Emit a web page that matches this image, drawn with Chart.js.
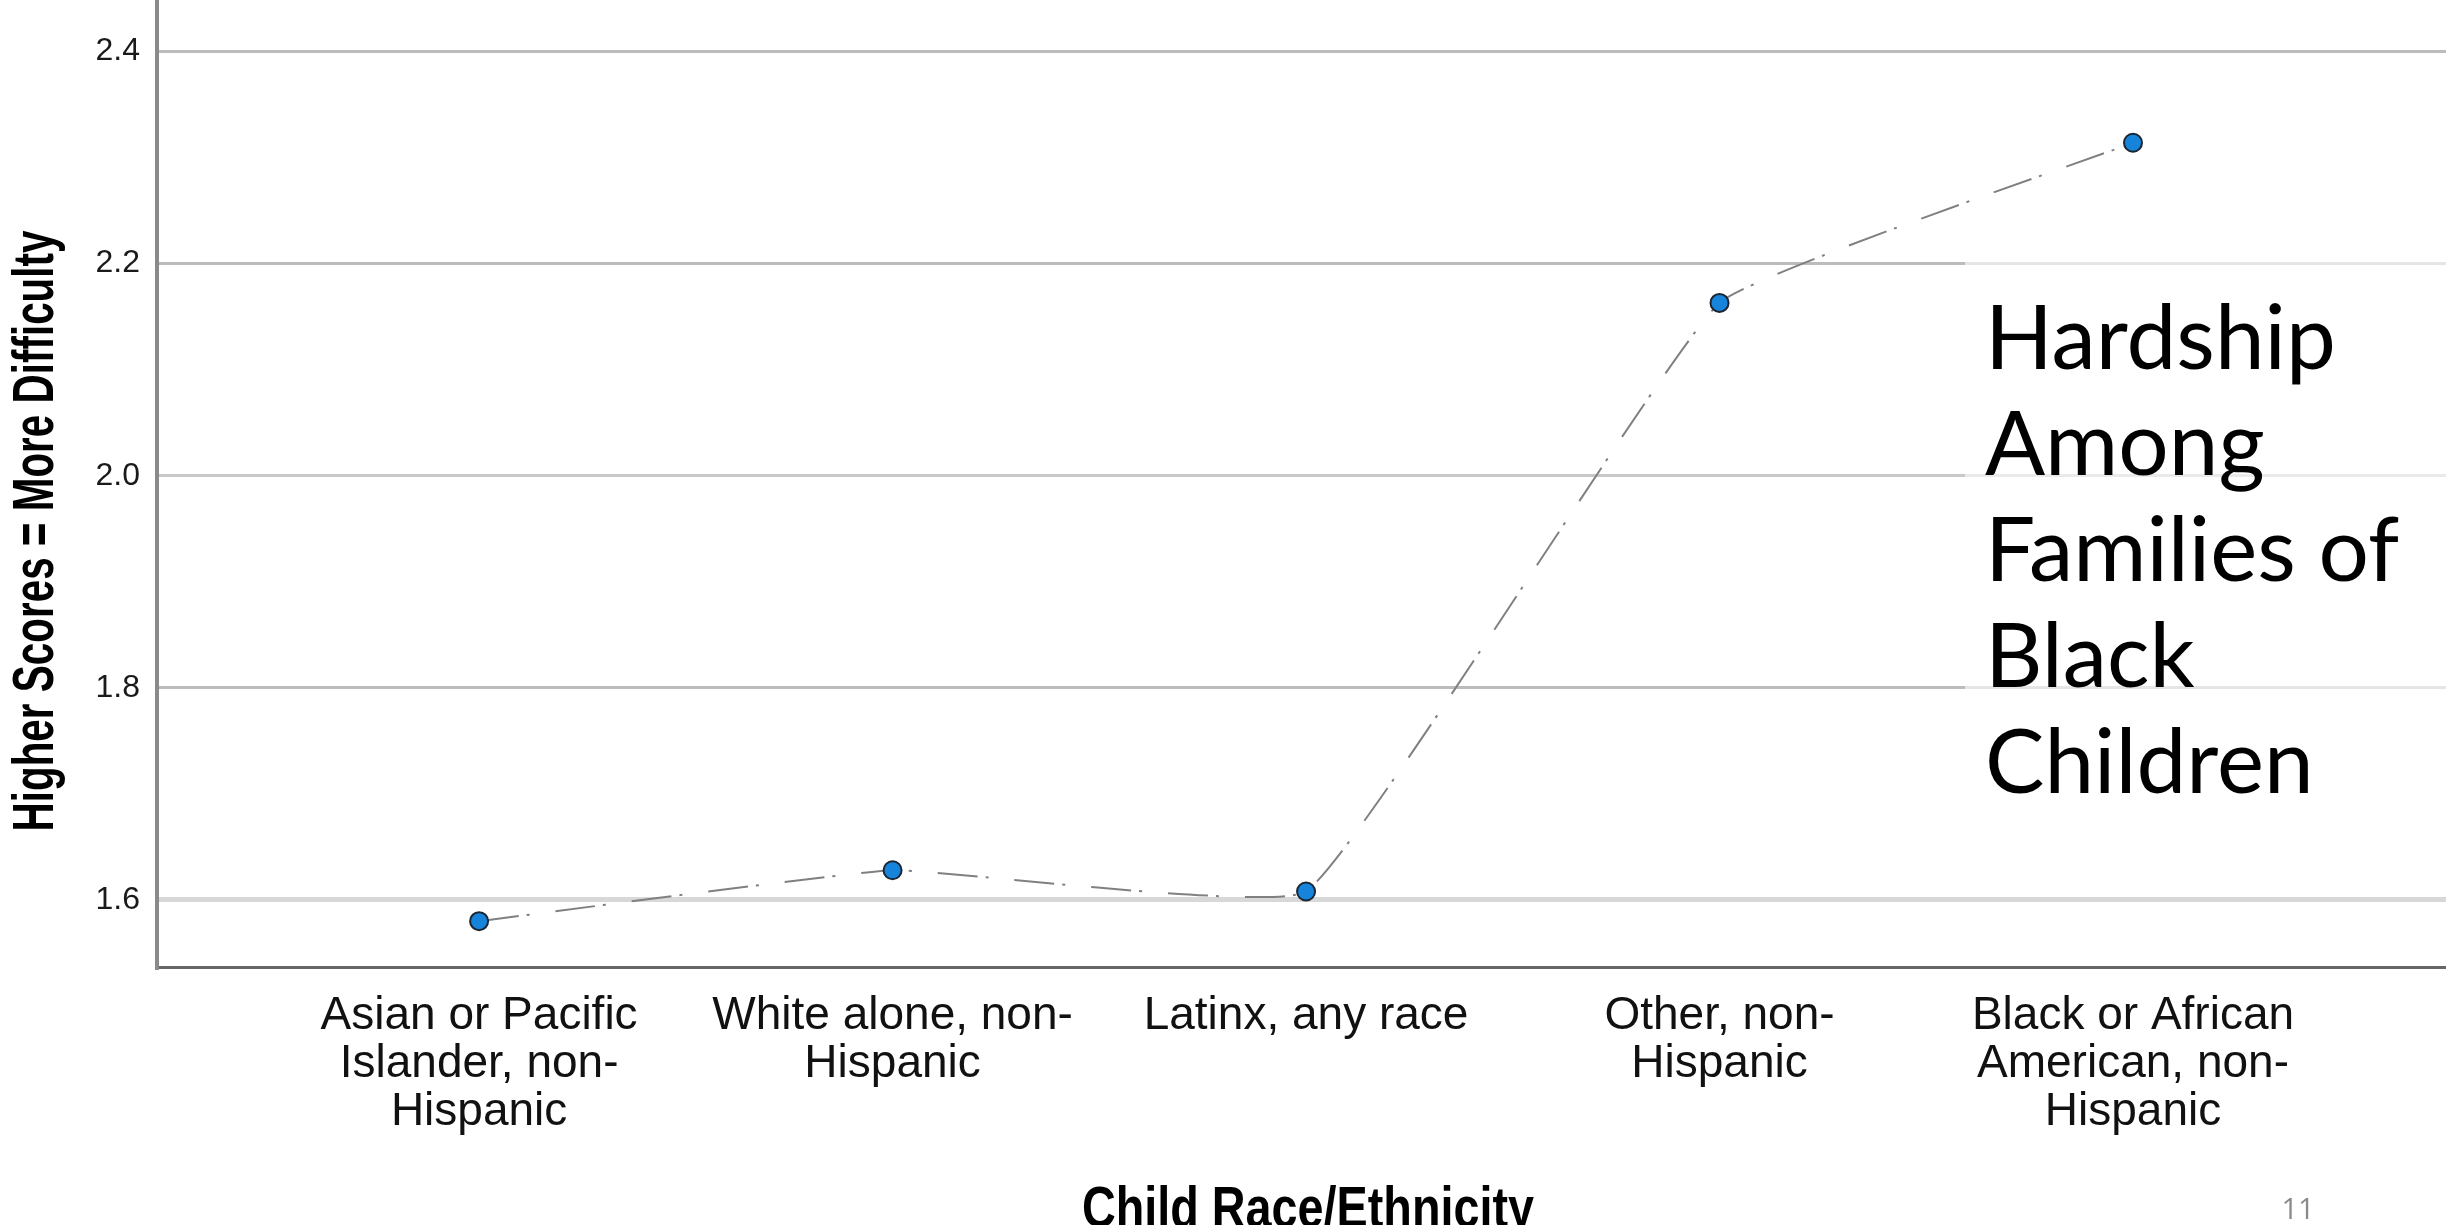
<!DOCTYPE html>
<html>
<head>
<meta charset="utf-8">
<title>Hardship Among Families of Black Children</title>
<script src="https://cdn.jsdelivr.net/npm/chart.js@4.4.1/dist/chart.umd.min.js"></script>
<style>
  html, body { margin: 0; padding: 0; background: #ffffff; overflow: hidden; }
  #wrap { width: 2446px; height: 1225px; position: relative; }
</style>
</head>
<body>
<div id="wrap"><canvas id="chart" width="2446" height="1225"></canvas></div>
<script>
// Categories along the x axis (pre-wrapped into lines)
const categoryLabels = [
  ['Asian or Pacific', 'Islander, non-', 'Hispanic'],
  ['White alone, non-', 'Hispanic'],
  ['Latinx, any race'],
  ['Other, non-', 'Hispanic'],
  ['Black or African', 'American, non-', 'Hispanic']
];

// Mean hardship score per group
const hardshipScores = [1.580, 1.628, 1.608, 2.163, 2.314];

// Value axis ticks
const yTickValues = [1.6, 1.8, 2.0, 2.2, 2.4];

const yAxisTitle = 'Higher Scores = More Difficulty';
const xAxisTitle = 'Child Race/Ethnicity';
const calloutLines = ['Hardship', 'Among', 'Families of', 'Black', 'Children'];
const slideNumber = '11';

const points = hardshipScores.map((v, i) => ({ x: i, y: v }));

// Text and the translucent callout panel drawn around the plot
const decorations = {
  id: 'decorations',
  beforeDatasetsDraw(chart) {
    const ctx = chart.ctx;
    const area = chart.chartArea;
    ctx.save();
    ctx.fillStyle = 'rgba(255,255,255,0.62)';
    ctx.fillRect(1965, 120, area.right - 1965, 745);
    ctx.restore();
  },
  afterDraw(chart) {
    const ctx = chart.ctx;

    // vertical axis title, condensed bold
    ctx.save();
    ctx.font = 'bold 57px "Liberation Sans Narrow", "Liberation Sans", Arial, sans-serif';
    const wy = ctx.measureText(yAxisTitle).width;
    ctx.translate(53, 531);
    ctx.rotate(-Math.PI / 2);
    ctx.scale(601 / wy, 1);
    ctx.textAlign = 'center';
    ctx.textBaseline = 'alphabetic';
    ctx.fillStyle = '#000000';
    ctx.fillText(yAxisTitle, 0, 0);
    ctx.restore();

    // horizontal axis title
    ctx.save();
    ctx.font = 'bold 57px "Liberation Sans Narrow", "Liberation Sans", Arial, sans-serif';
    const wx = ctx.measureText(xAxisTitle).width;
    ctx.translate(1308, 1227);
    ctx.scale(452 / wx, 1);
    ctx.textAlign = 'center';
    ctx.textBaseline = 'alphabetic';
    ctx.fillStyle = '#000000';
    ctx.fillText(xAxisTitle, 0, 0);
    ctx.restore();

    // callout text
    ctx.save();
    ctx.font = '89px Lato, "Open Sans", sans-serif';
    ctx.fillStyle = '#000000';
    ctx.textAlign = 'left';
    ctx.textBaseline = 'alphabetic';
    calloutLines.forEach((line, i) => ctx.fillText(line, 1985, 369 + i * 106));
    ctx.restore();

    // slide number
    ctx.save();
    ctx.font = '29px "Open Sans", Lato, sans-serif';
    ctx.fillStyle = '#8a8a8a';
    ctx.textAlign = 'center';
    ctx.textBaseline = 'alphabetic';
    ctx.fillText(slideNumber, 2298, 1219);
    ctx.restore();
  }
};

new Chart(document.getElementById('chart'), {
  type: 'line',
  data: {
    datasets: [{
      data: points,
      borderColor: '#808080',
      borderWidth: 2,
      borderDash: [40, 8, 3, 26],
      tension: 0.1,
      fill: false,
      pointRadius: 9,
      pointBorderWidth: 2,
      pointBackgroundColor: '#1784db',
      pointBorderColor: '#1c2633',
      clip: false
    }]
  },
  options: {
    responsive: false,
    animation: false,
    layout: { padding: 0, autoPadding: false },
    plugins: {
      legend: { display: false },
      tooltip: { enabled: false },
      title: { display: false }
    },
    scales: {
      x: {
        type: 'linear',
        min: -0.779,
        max: 4.757,
        afterBuildTicks(scale) {
          scale.ticks = categoryLabels.map((_, i) => ({ value: i }));
        },
        afterFit(scale) {
          scale.height = 258;
          scale.paddingLeft = 0;
          scale.paddingRight = 0;
        },
        grid: { display: false, drawTicks: false },
        border: { display: true, color: '#666666', width: 3 },
        ticks: {
          padding: 25,
          maxRotation: 0,
          autoSkip: false,
          color: '#111111',
          font: { family: '"Liberation Sans", Arial, sans-serif', size: 46, lineHeight: 1.05 },
          callback: (v) => categoryLabels[v]
        }
      },
      y: {
        min: 1.5368,
        max: 2.4486,
        afterBuildTicks(scale) {
          scale.ticks = yTickValues.map(v => ({ value: v }));
        },
        afterFit(scale) {
          scale.width = 157;
          scale.paddingTop = 0;
          scale.paddingBottom = 0;
        },
        grid: {
          drawTicks: false,
          color: (c) => {
            const v = c.tick ? c.tick.value : 0;
            if (Math.abs(v - 1.6) < 1e-6) return '#d8d8d8';
            if (Math.abs(v - 2.0) < 1e-6) return '#c8c8c8';
            return '#bcbcbc';
          },
          lineWidth: (c) => {
            const v = c.tick ? c.tick.value : 0;
            return Math.abs(v - 1.6) < 1e-6 ? 5 : 3;
          }
        },
        border: { display: true, color: '#8a8a8a', width: 4 },
        ticks: {
          padding: 17,
          color: '#1a1a1a',
          font: { family: '"Liberation Sans", Arial, sans-serif', size: 32 },
          callback: (v) => Number(v).toFixed(1)
        }
      }
    }
  },
  plugins: [decorations]
});
</script>
</body>
</html>
